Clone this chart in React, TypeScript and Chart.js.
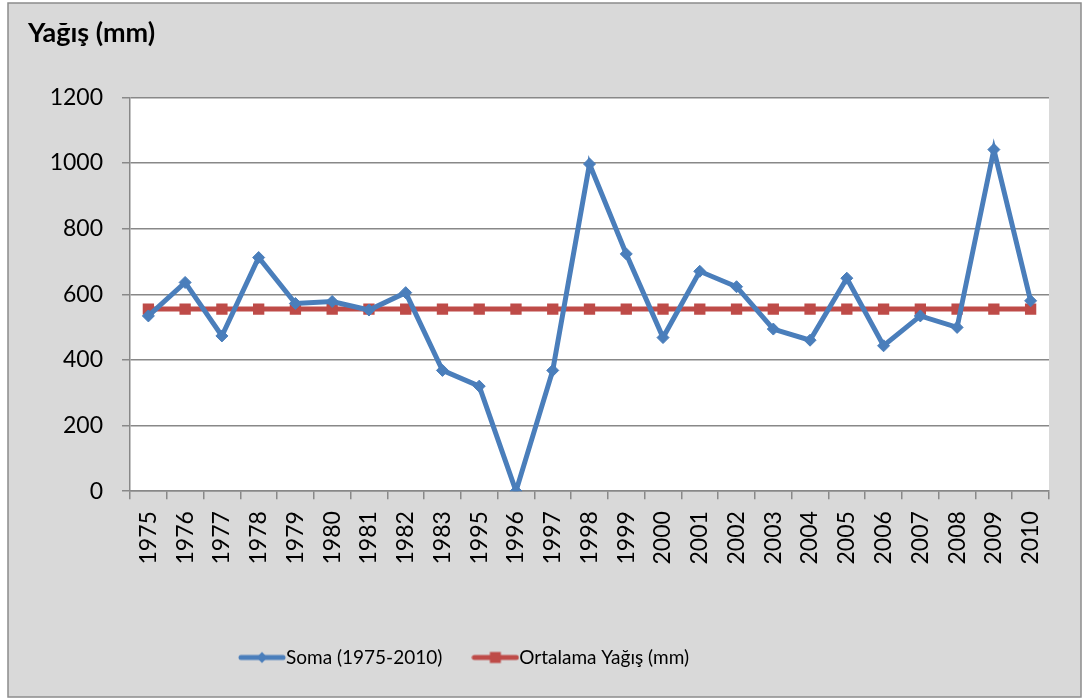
import React, { useEffect, useRef } from 'react';
import { Chart, registerables } from 'chart.js';

Chart.register(...registerables);

const years: string[] = [
  '1975', '1976', '1977', '1978', '1979', '1980', '1981', '1982', '1983',
  '1995', '1996', '1997', '1998', '1999', '2000', '2001', '2002', '2003',
  '2004', '2005', '2006', '2007', '2008', '2009', '2010',
];

const somaValues: number[] = [
  534, 636, 473, 712, 572, 578, 552, 605, 368,
  320, 0, 368, 997, 723, 468, 670, 623, 494,
  460, 649, 443, 534, 499, 1041, 580,
];

const averageValues: number[] = [
  555, 555, 555, 555, 555, 555, 555, 555, 555,
  555, 555, 555, 555, 555, 555, 555, 555, 555,
  555, 555, 555, 555, 555, 555, 555,
];

const seriesNames: string[] = ['Soma (1975-2010)', 'Ortalama Yağış (mm)'];
const titleText = 'Yağış (mm)';
const yMin = 0;
const yMax = 1200;
const yStep = 200;

const BLUE = '#4A7EBB';
const RED = '#BE4B48';
const FONT = 'Lato, "Open Sans", sans-serif';

function makeLegendIcon(color: string, marker: 'diamond' | 'square'): HTMLCanvasElement {
  const c = document.createElement('canvas');
  c.width = 48;
  c.height = 16;
  const ctx = c.getContext('2d')!;
  ctx.strokeStyle = color;
  ctx.lineWidth = 5;
  ctx.lineCap = 'round';
  ctx.beginPath();
  ctx.moveTo(3, 8);
  ctx.lineTo(45, 8);
  ctx.stroke();
  ctx.fillStyle = color;
  if (marker === 'diamond') {
    ctx.beginPath();
    ctx.moveTo(24, 2.5);
    ctx.lineTo(29.5, 8);
    ctx.lineTo(24, 13.5);
    ctx.lineTo(18.5, 8);
    ctx.closePath();
    ctx.fill();
  } else {
    ctx.fillRect(18.5, 2.5, 11, 11);
  }
  return c;
}

const backgroundPlugin = {
  id: 'excelBackground',
  beforeDraw(chart: any) {
    const { ctx, width, height, chartArea } = chart;
    ctx.save();
    ctx.fillStyle = '#ffffff';
    ctx.fillRect(0, 0, width, height);
    ctx.fillStyle = '#D9D9D9';
    ctx.fillRect(8, 3, width - 11, height - 4);
    ctx.strokeStyle = '#8C8C8C';
    ctx.lineWidth = 1.5;
    ctx.strokeRect(8, 3, width - 11, height - 4);
    ctx.fillStyle = '#ffffff';
    ctx.fillRect(chartArea.left, chartArea.top, chartArea.right - chartArea.left, chartArea.bottom - chartArea.top);
    ctx.restore();
  },
};

const legendPlacePlugin = {
  id: 'legendPlace',
  afterLayout(chart: any) {
    const lg = chart.legend;
    if (!lg) return;
    lg.left = 209;
    lg.top = 609.5;
    lg.bottom = 698;
  },
};

export default function App() {
  const canvasRef = useRef<HTMLCanvasElement | null>(null);

  useEffect(() => {
    const canvas = canvasRef.current;
    if (!canvas) return;
    const icons = [makeLegendIcon(BLUE, 'diamond'), makeLegendIcon(RED, 'square')];
    const chart = new Chart(canvas, {
      type: 'line',
      data: {
        labels: years,
        datasets: [
          {
            label: seriesNames[0],
            data: somaValues,
            borderColor: BLUE,
            backgroundColor: BLUE,
            borderWidth: 5,
            pointStyle: 'rectRot',
            pointRadius: 6,
            pointBackgroundColor: BLUE,
            pointBorderColor: BLUE,
            pointBorderWidth: 1,
            tension: 0,
          },
          {
            label: seriesNames[1],
            data: averageValues,
            borderColor: RED,
            backgroundColor: RED,
            borderWidth: 5,
            pointStyle: 'rect',
            pointRadius: 8,
            pointBackgroundColor: RED,
            pointBorderColor: RED,
            pointBorderWidth: 0,
            tension: 0,
          },
        ],
      },
      options: {
        animation: false,
        responsive: false,
        devicePixelRatio: 1,
        layout: { padding: { left: 28, right: 35, top: 0, bottom: 54 } },
        plugins: {
          title: {
            display: true,
            text: titleText,
            align: 'start',
            color: '#000',
            font: { family: FONT, size: 27, weight: 'bold' },
            padding: { top: 17, bottom: 48 },
          },
          legend: {
            display: true,
            position: 'bottom',
            align: 'start',
            labels: {
              usePointStyle: true,
              pointStyleWidth: 29,
              boxHeight: 16,
              padding: 38.5,
              color: '#000',
              font: { family: FONT, size: 19 },
              generateLabels: () =>
                seriesNames.map((name, i) => ({
                  text: name,
                  pointStyle: icons[i],
                  fillStyle: i === 0 ? BLUE : RED,
                  strokeStyle: i === 0 ? BLUE : RED,
                  lineWidth: 0,
                  hidden: false,
                  datasetIndex: i,
                  fontColor: '#000',
                })),
            },
          },
          tooltip: { enabled: false },
        },
        scales: {
          x: {
            type: 'category',
            offset: true,
            grid: {
              offset: true,
              drawOnChartArea: false,
              drawTicks: true,
              tickLength: 8,
              color: '#888',
              lineWidth: 1.5,
            },
            border: { color: '#888', width: 1.5 },
            ticks: {
              minRotation: 90,
              maxRotation: 90,
              autoSkip: false,
              padding: 12,
              color: '#000',
              font: { family: FONT, size: 23 },
            },
          },
          y: {
            min: yMin,
            max: yMax,
            afterFit: (scale: any) => {
              scale.width = 102;
            },
            grid: {
              color: '#888',
              lineWidth: 1.5,
              tickLength: 8,
              drawTicks: true,
            },
            border: { color: '#888', width: 1.5 },
            ticks: {
              stepSize: yStep,
              padding: 19,
              color: '#000',
              font: { family: FONT, size: 23 },
              callback: (v: any) => String(v),
            },
          },
        },
      },
      plugins: [backgroundPlugin, legendPlacePlugin],
    });
    return () => chart.destroy();
  }, []);

  return (
    <div style={{ position: 'absolute', left: 0, top: 0, width: 1084, height: 698 }}>
      <canvas ref={canvasRef} width={1084} height={698} style={{ display: 'block', width: 1084, height: 698 }} />
    </div>
  );
}
